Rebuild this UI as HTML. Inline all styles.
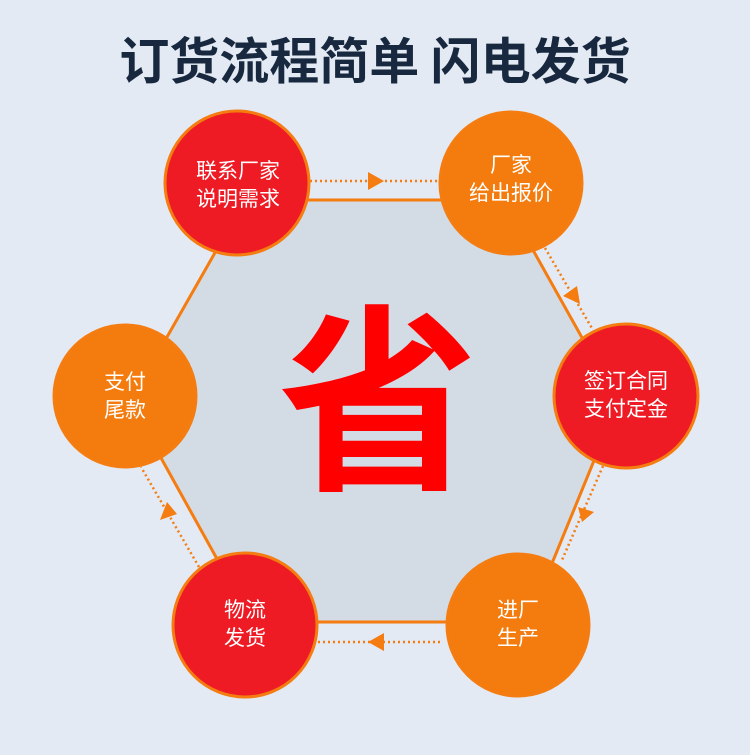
<!DOCTYPE html>
<html><head><meta charset="utf-8"><style>
body{margin:0;width:750px;height:755px;background:#e4eaf3;overflow:hidden;font-family:"Liberation Sans","Noto Sans CJK SC",sans-serif;}
</style></head><body>
<svg width="750" height="755" xmlns="http://www.w3.org/2000/svg" style="position:absolute;left:0;top:0">
<text x="375" y="79" text-anchor="middle" font-size="50" font-weight="bold" fill="#18293f" font-family="Noto Sans CJK SC, sans-serif">订货流程简单 闪电发货</text>
<polygon points="245,200 505,200 618,402 528,622 252,622 130,402" fill="#d3dbe5" stroke="#f47c10" stroke-width="3"/>
<text x="378" y="474" text-anchor="middle" font-size="200" font-weight="bold" fill="#ff0000" font-family="Noto Sans CJK SC, sans-serif">省</text>
<g stroke="#f47c10" stroke-width="2.5" stroke-dasharray="2,3" fill="none">
<line x1="310" y1="181" x2="440" y2="181"/>
<line x1="545" y1="248" x2="593" y2="330"/>
<line x1="603" y1="466" x2="562" y2="560"/>
<line x1="440" y1="642" x2="310" y2="642"/>
<line x1="199" y1="567" x2="141" y2="467"/>
</g>
<g fill="#f47c10">
<polygon points="368,172 384,181 368,190"/>
<polygon points="563,296 580,304 577,286"/>
<polygon points="578,507 594,512 582,522"/>
<polygon points="384,633 368,642 384,651"/>
<polygon points="160,520 167,502 177,514"/>
</g>
<g stroke="#f47c10" stroke-width="3">
<circle cx="237" cy="183" r="72" fill="#ee1a24"/>
<circle cx="511" cy="183" r="71" fill="#f47c0f"/>
<circle cx="626" cy="396" r="72" fill="#ee1a24"/>
<circle cx="518" cy="625" r="71" fill="#f47c0f"/>
<circle cx="245" cy="625" r="72" fill="#ee1a24"/>
<circle cx="125" cy="396" r="71" fill="#f47c0f"/>
</g>
<g fill="#fff" font-size="21" text-anchor="middle" font-family="Noto Sans CJK SC, sans-serif">
<text x="238" y="178">联系厂家</text><text x="238" y="206">说明需求</text>
<text x="511" y="172">厂家</text><text x="511" y="200">给出报价</text>
<text x="626" y="388">签订合同</text><text x="626" y="416">支付定金</text>
<text x="518" y="617">进厂</text><text x="518" y="645">生产</text>
<text x="245" y="617">物流</text><text x="245" y="645">发货</text>
<text x="125" y="389">支付</text><text x="125" y="417">尾款</text>
</g>
</svg>
</body></html>
